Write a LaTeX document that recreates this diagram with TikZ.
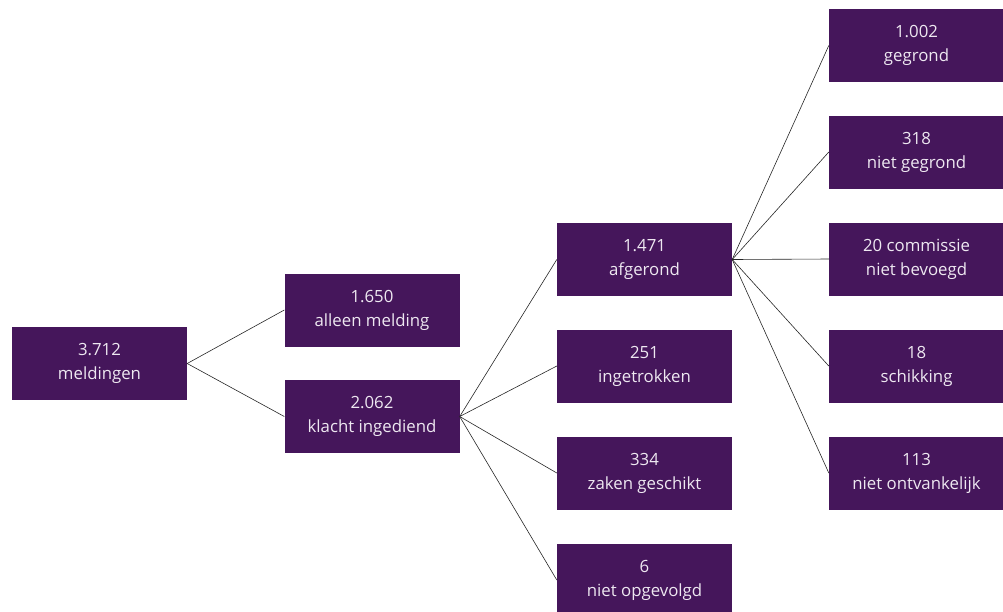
\documentclass[tikz,border=0pt]{standalone}
\usepackage{fontspec}
\setmainfont{Open Sans}
\definecolor{boxpurple}{HTML}{45165B}
\definecolor{boxtext}{HTML}{EEE8F1}
\tikzset{
  box/.style={fill=boxpurple, text=boxtext, minimum width=175pt, minimum height=73pt, inner sep=0pt, align=center, font=\fontsize{16.8}{24}\selectfont},
  link/.style={draw=black!85, line width=0.6pt}
}
\begin{document}
\begin{tikzpicture}[x=1pt,y=-1pt]
\useasboundingbox (0,0) rectangle (1003,611);
\node[box] (m) at (99.5,363.5) {3.712\\meldingen};
\node[box] (a) at (372,310) {1.650\\alleen melding};
\node[box] (k) at (372,416.5) {2.062\\klacht ingediend};
\node[box] (af) at (644.5,259.5) {1.471\\afgerond};
\node[box] (in) at (644.5,366) {251\\ingetrokken};
\node[box] (za) at (644.5,473) {334\\zaken geschikt};
\node[box] (ni) at (644.5,580) {6\\niet opgevolgd};
\node[box] (g1) at (916.5,45.5) {1.002\\gegrond};
\node[box] (g2) at (916.5,152) {318\\niet gegrond};
\node[box] (g3) at (916.5,259) {20 commissie\\niet bevoegd};
\node[box] (g4) at (916.5,366) {18\\schikking};
\node[box] (g5) at (916.5,473) {113\\niet ontvankelijk};
\foreach \s/\t in {m/a,m/k,k/af,k/in,k/za,k/ni,af/g1,af/g2,af/g3,af/g4,af/g5}
  \draw[link] (\s.east) -- (\t.west);
\end{tikzpicture}
\end{document}
